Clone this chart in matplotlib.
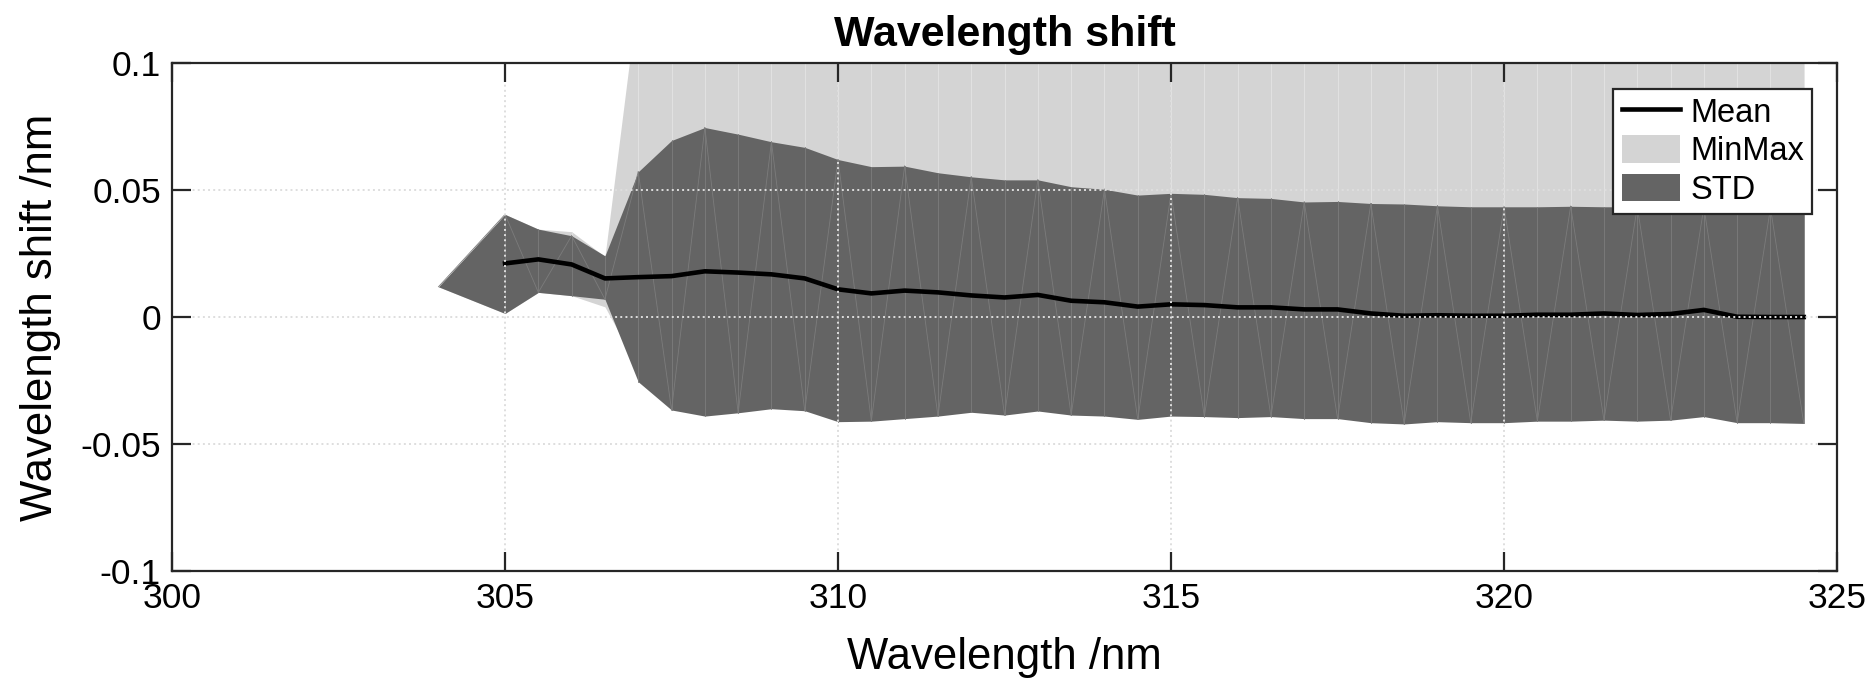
import numpy as np
import matplotlib.pyplot as plt

plt.rcParams['font.family'] = ['Liberation Sans', 'DejaVu Sans']

# wavelengths (nm)
wl = np.array([304.0, 305.0, 305.5, 306.0, 306.5, 307.0, 307.5, 308.0, 308.5, 309.0,
               309.5, 310.0, 310.5, 311.0, 311.5, 312.0, 312.5, 313.0, 313.5, 314.0,
               314.5, 315.0, 315.5, 316.0, 316.5, 317.0, 317.5, 318.0, 318.5, 319.0,
               319.5, 320.0, 320.5, 321.0, 321.5, 322.0, 322.5, 323.0, 323.5, 324.0,
               324.5])

mean = np.array([np.nan, 0.0211, 0.0227, 0.0207, 0.0152, 0.0157, 0.0161, 0.0180, 0.0175, 0.0168,
                 0.0152, 0.0109, 0.0093, 0.0104, 0.0097, 0.0085, 0.0077, 0.0087, 0.0064, 0.0058,
                 0.0041, 0.0050, 0.0047, 0.0038, 0.0038, 0.0030, 0.0030, 0.0014, 0.0005, 0.0007,
                 0.0005, 0.0005, 0.0009, 0.0009, 0.0014, 0.0008, 0.0012, 0.0028, 0.0001, 0.0000,
                 0.0000])

std_hi = np.array([0.0119, 0.0404, 0.0346, 0.0320, 0.0241, 0.0572, 0.0695, 0.0746, 0.0720, 0.0690,
                   0.0668, 0.0620, 0.0592, 0.0594, 0.0568, 0.0552, 0.0540, 0.0540, 0.0513, 0.0503,
                   0.0480, 0.0487, 0.0483, 0.0470, 0.0467, 0.0453, 0.0455, 0.0447, 0.0445, 0.0438,
                   0.0434, 0.0434, 0.0434, 0.0436, 0.0434, 0.0434, 0.0434, 0.0433, 0.0432, 0.0430,
                   0.0428])

std_lo = np.array([0.0119, 0.0014, 0.0097, 0.0084, 0.0070, -0.0255, -0.0366, -0.0390, -0.0377, -0.0361,
                   -0.0369, -0.0412, -0.0410, -0.0400, -0.0390, -0.0375, -0.0386, -0.0370, -0.0386, -0.0390,
                   -0.0403, -0.0390, -0.0392, -0.0396, -0.0392, -0.0400, -0.0400, -0.0416, -0.0421, -0.0412,
                   -0.0416, -0.0416, -0.0410, -0.0410, -0.0406, -0.0410, -0.0406, -0.0392, -0.0416, -0.0416,
                   -0.0419])

mm_hi = np.array([0.0119, 0.0404, 0.0346, 0.0336, 0.0238, 0.128, 0.140, 0.145, 0.142, 0.138,
                  0.135, 0.132, 0.130, 0.131, 0.129, 0.128, 0.127, 0.127, 0.126, 0.125,
                  0.124, 0.125, 0.124, 0.123, 0.123, 0.122, 0.122, 0.121, 0.121, 0.121,
                  0.120, 0.120, 0.120, 0.120, 0.120, 0.120, 0.120, 0.121, 0.120, 0.120,
                  0.120])

mm_lo = np.array([0.0119, 0.0014, 0.0097, 0.0084, 0.0040, -0.0200, -0.0300, -0.0320, -0.0310, -0.0300,
                  -0.0300, -0.0340, -0.0340, -0.0330, -0.0320, -0.0310, -0.0320, -0.0300, -0.0320, -0.0320,
                  -0.0330, -0.0320, -0.0320, -0.0330, -0.0320, -0.0330, -0.0330, -0.0340, -0.0350, -0.0340,
                  -0.0340, -0.0340, -0.0340, -0.0340, -0.0330, -0.0340, -0.0330, -0.0320, -0.0340, -0.0340,
                  -0.0350])

xt = [300, 305, 310, 315, 320, 325]
yt = [-0.1, -0.05, 0, 0.05, 0.1]
ytl = ['-0.1', '-0.05', '0', '0.05', '0.1']

c_mm = '#d4d4d4'
c_std = '#646464'

fig = plt.figure(figsize=(18.74, 6.85), dpi=100)
ax = fig.add_axes([0.0918, 0.1664, 0.8885, 0.7416])

ax.fill_between(wl, mm_lo, mm_hi, color=c_mm, lw=0, label='MinMax', zorder=1)
ax.fill_between(wl, std_lo, std_hi, color=c_std, lw=0, label='STD', zorder=1.2)

# faint facet edges like the original renderer
for i in range(1, len(wl)):
    ax.plot([wl[i], wl[i]], [std_hi[i], min(mm_hi[i], 0.1)], color='#e4e4e4', lw=0.6, zorder=1.1)
    ax.plot([wl[i], wl[i]], [std_lo[i], std_hi[i]], color='#7c7c7c', lw=0.6, zorder=1.3)
    if i % 2:
        ax.plot([wl[i - 1], wl[i]], [std_lo[i - 1], std_hi[i]], color='#7c7c7c', lw=0.6, zorder=1.3)
    else:
        ax.plot([wl[i - 1], wl[i]], [std_hi[i - 1], std_lo[i]], color='#7c7c7c', lw=0.6, zorder=1.3)

ax.plot(wl, mean, color='black', lw=3.3, label='Mean', zorder=1.6)

# dotted grid above the patches but below the tick marks
for x in xt[1:-1]:
    ax.axvline(x, ls=':', color='#dedede', lw=1.4, zorder=1.8)
for y in yt[1:-1]:
    ax.axhline(y, ls=':', color='#dedede', lw=1.4, zorder=1.8)

ax.set_xlim(300, 325)
ax.set_ylim(-0.1, 0.1)
ax.set_xticks(xt)
ax.set_yticks(yt)
ax.set_yticklabels(ytl)
ax.set_axisbelow(False)
ax.tick_params(direction='in', length=13.5, width=1.6, color='#262626', top=True, right=True,
               labelsize=25.5, pad=8)
for s in ax.spines.values():
    s.set_linewidth(1.6)
    s.set_color('#262626')
    s.set_zorder(3)

ax.set_xlabel('Wavelength /nm', fontsize=31.5, labelpad=16)
ax.set_ylabel('Wavelength shift /nm', fontsize=31.5, labelpad=14)
ax.set_title('Wavelength shift', fontsize=31, fontweight='bold', pad=12)

h, l = ax.get_legend_handles_labels()
order = [l.index('Mean'), l.index('MinMax'), l.index('STD')]
leg = ax.legend([h[k] for k in order], [l[k] for k in order], loc='upper right',
                bbox_to_anchor=(0.985, 0.949), fontsize=23.5, fancybox=False,
                framealpha=1, edgecolor='#262626', borderpad=0.25, labelspacing=0.2,
                handlelength=1.8, handleheight=0.9, handletextpad=0.3, borderaxespad=0)
leg.get_frame().set_linewidth(1.6)
leg.set_zorder(7)

fig.savefig('out.png', dpi=100)
